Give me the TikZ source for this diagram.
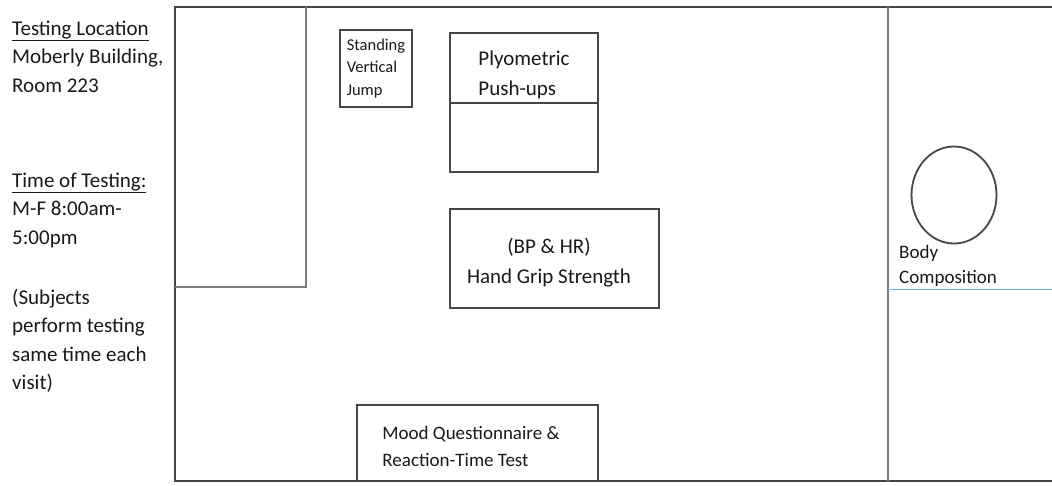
\documentclass[tikz,border=0pt]{standalone}
\usepackage{fontspec}
\setmainfont{Carlito}
\usepackage{tikz}
\usetikzlibrary{shapes.geometric}
\definecolor{wallgray}{RGB}{70,70,70}
\definecolor{boxgray}{RGB}{70,70,70}
\definecolor{linegray}{RGB}{125,125,125}
\definecolor{inkgray}{RGB}{25,25,25}
\definecolor{paleblue}{RGB}{120,175,225}
\tikzstyle{wall} = [draw=wallgray, line width=2pt]
\tikzstyle{partition} = [draw=linegray, line width=1.5pt]
\tikzstyle{boxline} = [draw=boxgray, line width=1.8pt]
\tikzstyle{station} = [rectangle, boxline, inner sep=0pt]
\tikzstyle{info} = [anchor=west, inner sep=0pt, align=left, text=inkgray, font=\fontsize{21}{28.5}\selectfont]
\tikzstyle{tag} = [inner sep=0pt, align=left, text=inkgray]

\begin{document}
\begin{tikzpicture}[x=1pt, y=-1pt]
		\useasboundingbox (0,0) rectangle (1052,485);
		% room outline
		\coordinate (roomTR) at (1052,7);
		\coordinate (roomTL) at (175,7);
		\coordinate (roomBL) at (175,481);
		\coordinate (roomBR) at (1052,481);
		\draw [wall] (roomTR) -- (roomTL) -- (roomBL) -- (roomBR);
		
		% closet and side room
		\coordinate (closetT) at (306,7);
		\coordinate (closetC) at (306,287);
		\coordinate (closetL) at (175,287);
		\draw [partition] (closetT) -- (closetC) -- (closetL);
		\coordinate (sideT) at (888,7);
		\coordinate (sideB) at (888,481);
		\draw [partition] (sideT) -- (sideB);
		\coordinate (sideL) at (888,289);
		\coordinate (sideR) at (1052,289);
		\draw [draw=paleblue, line width=1pt] (sideL) -- (sideR);
		
		% stations
		\node (svj) [station, minimum width=72pt, minimum height=77pt, tag, font=\fontsize{16.5}{22.5}\selectfont] at (376,68.5) {Standing\\Vertical\\Jump};
		\node (plyo) [station, minimum width=148pt, minimum height=139pt] at (524,102.5) {};
		\coordinate (plyomid) at (524,103);
		\draw [boxline] (plyo.west |- plyomid) -- (plyo.east |- plyomid);
		\node (plyotxt) [tag, font=\fontsize{21}{30}\selectfont] at (524,75) {Plyometric\\Push-ups};
		\node (grip) [station, minimum width=209pt, minimum height=99pt] at (554.5,258.5) {};
		\node (griptxt) [tag, align=center, font=\fontsize{21}{30}\selectfont] at (549,263) {(BP \& HR)\\Hand Grip Strength};
		\node (mood) [station, minimum width=241pt, minimum height=76pt] at (477.5,443) {};
		\node (moodtxt) [tag, font=\fontsize{19}{27}\selectfont] at (471,446.5) {Mood Questionnaire \&\\Reaction-Time Test};
		\node (body) [ellipse, boxline, minimum width=85pt, minimum height=97pt, inner sep=0pt] at (954,195) {};
		\node (bodytxt) [tag, anchor=west, font=\fontsize{19}{25}\selectfont] at (899,265.5) {Body\\Composition};
		
		% notes on the left
		\node (where) [info] at (12,56.5) {\underline{Testing Location}\\Moberly Building,\\Room 223};
		\node (when) [info] at (12,210) {\underline{Time of Testing:}\\M-F 8:00am-\\5:00pm};
		\node (note) [info] at (12,341) {(Subjects\\perform testing\\same time each\\visit)};
\end{tikzpicture}
\end{document}
